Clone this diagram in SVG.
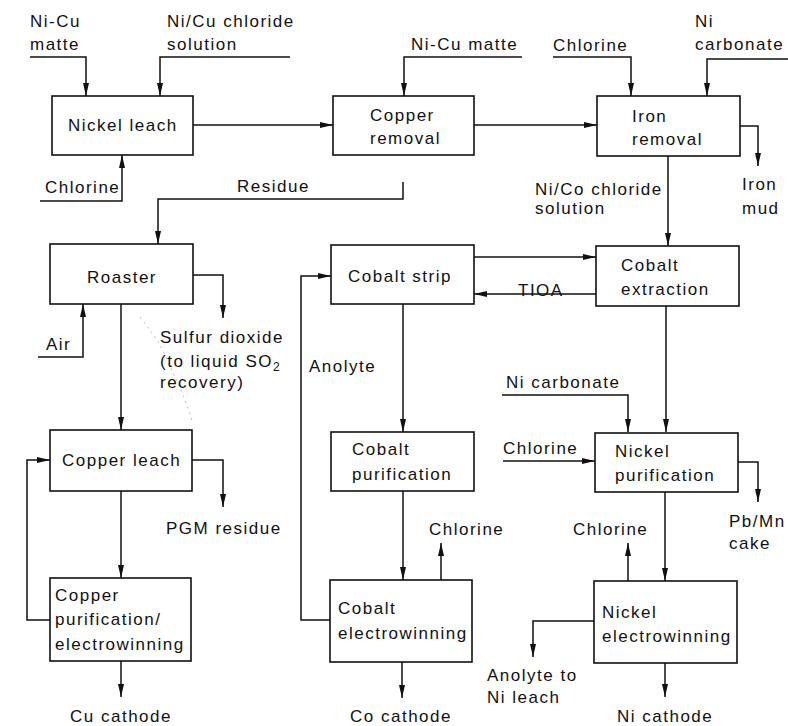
<svg xmlns="http://www.w3.org/2000/svg" width="788" height="726" viewBox="0 0 788 726">
<defs>
<style>
.box{fill:#fff;stroke:#111;stroke-width:1.6}
.t{font-family:"Liberation Sans","DejaVu Sans",sans-serif;font-size:17px;letter-spacing:1.5px;fill:#111}
.ln{fill:none;stroke:#111;stroke-width:1.5}
.faint{fill:none;stroke:#aaa;stroke-width:0.8;stroke-dasharray:2 4}
</style>
<marker id="ah" viewBox="0 0 13 7" markerUnits="userSpaceOnUse" markerWidth="13" markerHeight="7" refX="13" refY="3.5" orient="auto">
<path d="M0,0.5 L13,3.5 L0,6.5 z" fill="#111"/>
</marker>
</defs>
<rect width="788" height="726" fill="#fff"/>

<g id="connectors">
<path class="ln" d="M30,57 H86 V96" marker-end="url(#ah)"/>
<path class="ln" d="M290,57 H160 V96" marker-end="url(#ah)"/>
<path class="ln" d="M40,201 H122 V155" marker-end="url(#ah)"/>
<path class="ln" d="M193,125 H333" marker-end="url(#ah)"/>
<path class="ln" d="M522,57 H404 V96" marker-end="url(#ah)"/>
<path class="ln" d="M474,125 H597" marker-end="url(#ah)"/>
<path class="ln" d="M553,57 H631 V96" marker-end="url(#ah)"/>
<path class="ln" d="M788,59 H707 V96" marker-end="url(#ah)"/>
<path class="ln" d="M740,126 H758 V166" marker-end="url(#ah)"/>
<path class="ln" d="M668,156 V246" marker-end="url(#ah)"/>
<path class="ln" d="M403,182 V199 H158 V244" marker-end="url(#ah)"/>
<path class="ln" d="M193,275 H223 V318" marker-end="url(#ah)"/>
<path class="ln" d="M38,357 H83 V304" marker-end="url(#ah)"/>
<path class="ln" d="M121,304 V430" marker-end="url(#ah)"/>
<path class="faint" d="M140,317 C150,330 158,340 165,355 C175,378 186,398 193,424"/>
<path class="ln" d="M192,460 H223 V507" marker-end="url(#ah)"/>
<path class="ln" d="M121,491 V578" marker-end="url(#ah)"/>
<path class="ln" d="M50,620 H27 V460 H50" marker-end="url(#ah)"/>
<path class="ln" d="M121,661 V697" marker-end="url(#ah)"/>
<path class="ln" d="M474,257 H596" marker-end="url(#ah)"/>
<path class="ln" d="M596,294 H474" marker-end="url(#ah)"/>
<path class="ln" d="M403,304 V432" marker-end="url(#ah)"/>
<path class="ln" d="M403,491 V580" marker-end="url(#ah)"/>
<path class="ln" d="M441,580 V543" marker-end="url(#ah)"/>
<path class="ln" d="M330,620 H301 V276 H331" marker-end="url(#ah)"/>
<path class="ln" d="M402,662 V698" marker-end="url(#ah)"/>
<path class="ln" d="M666,306 V432" marker-end="url(#ah)"/>
<path class="ln" d="M502,395 H628 V432" marker-end="url(#ah)"/>
<path class="ln" d="M503,461 H595" marker-end="url(#ah)"/>
<path class="ln" d="M738,462 H758 V502" marker-end="url(#ah)"/>
<path class="ln" d="M665,491 V581" marker-end="url(#ah)"/>
<path class="ln" d="M628,581 V543" marker-end="url(#ah)"/>
<path class="ln" d="M594,621 H533 V657" marker-end="url(#ah)"/>
<path class="ln" d="M665,663 V697" marker-end="url(#ah)"/>
</g>

<g id="nickel-leach"><rect class="box" x="52" y="96" width="141" height="59"/><text class="t" x="68" y="131">Nickel leach</text></g>
<g id="copper-removal"><rect class="box" x="333" y="96" width="141" height="59"/><text class="t" x="370" y="121">Copper</text><text class="t" x="370" y="144">removal</text></g>
<g id="iron-removal"><rect class="box" x="597" y="96" width="143" height="60"/><text class="t" x="632" y="122">Iron</text><text class="t" x="632" y="145">removal</text></g>
<g id="roaster"><rect class="box" x="50" y="244" width="143" height="60"/><text class="t" x="87" y="283">Roaster</text></g>
<g id="cobalt-strip"><rect class="box" x="331" y="245" width="143" height="59"/><text class="t" x="348" y="282">Cobalt strip</text></g>
<g id="cobalt-extraction"><rect class="box" x="596" y="246" width="143" height="60"/><text class="t" x="621" y="271">Cobalt</text><text class="t" x="621" y="295">extraction</text></g>
<g id="copper-leach"><rect class="box" x="50" y="430" width="142" height="61"/><text class="t" x="62" y="466">Copper leach</text></g>
<g id="cobalt-purification"><rect class="box" x="331" y="432" width="143" height="59"/><text class="t" x="352" y="455">Cobalt</text><text class="t" x="352" y="480">purification</text></g>
<g id="nickel-purification"><rect class="box" x="595" y="433" width="143" height="59"/><text class="t" x="615" y="457">Nickel</text><text class="t" x="615" y="481">purification</text></g>
<g id="copper-purification"><rect class="box" x="50" y="578" width="141" height="83"/><text class="t" x="55" y="601">Copper</text><text class="t" x="55" y="625">purification/</text><text class="t" x="55" y="650">electrowinning</text></g>
<g id="cobalt-electrowinning"><rect class="box" x="330" y="580" width="142" height="82"/><text class="t" x="338" y="614">Cobalt</text><text class="t" x="338" y="639">electrowinning</text></g>
<g id="nickel-electrowinning"><rect class="box" x="594" y="581" width="143" height="82"/><text class="t" x="602" y="618">Nickel</text><text class="t" x="602" y="642">electrowinning</text></g>

<g id="labels">
<text class="t" x="30" y="27">Ni-Cu</text><text class="t" x="30" y="50">matte</text>
<text class="t" x="167" y="27">Ni/Cu chloride</text><text class="t" x="167" y="50">solution</text>
<text class="t" x="411" y="50">Ni-Cu matte</text>
<text class="t" x="553" y="51">Chlorine</text>
<text class="t" x="695" y="27">Ni</text><text class="t" x="695" y="50">carbonate</text>
<text class="t" x="45" y="193">Chlorine</text>
<text class="t" x="237" y="192">Residue</text>
<text class="t" x="535" y="195">Ni/Co chloride</text><text class="t" x="535" y="214">solution</text>
<text class="t" x="742" y="190">Iron</text><text class="t" x="742" y="214">mud</text>
<text class="t" x="518" y="296">TIOA</text>
<text class="t" x="46" y="350">Air</text>
<text class="t" x="160" y="343">Sulfur dioxide</text>
<text class="t" x="160" y="367">(to liquid SO<tspan font-size="12" dy="4">2</tspan></text>
<text class="t" x="160" y="388">recovery)</text>
<text class="t" x="309" y="372">Anolyte</text>
<text class="t" x="506" y="388">Ni carbonate</text>
<text class="t" x="503" y="454">Chlorine</text>
<text class="t" x="166" y="534">PGM residue</text>
<text class="t" x="429" y="535">Chlorine</text>
<text class="t" x="573" y="535">Chlorine</text>
<text class="t" x="729" y="527">Pb/Mn</text><text class="t" x="729" y="549">cake</text>
<text class="t" x="487" y="681">Anolyte to</text><text class="t" x="487" y="703">Ni leach</text>
<text class="t" x="70" y="722">Cu cathode</text>
<text class="t" x="350" y="722">Co cathode</text>
<text class="t" x="617" y="722">Ni cathode</text>
</g>
</svg>
